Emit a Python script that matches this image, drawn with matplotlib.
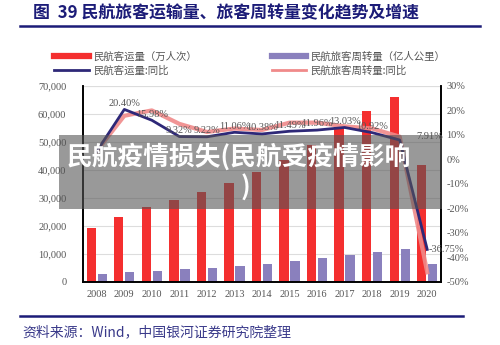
import matplotlib
matplotlib.use('Agg')
import matplotlib.pyplot as plt
from matplotlib.lines import Line2D
from matplotlib.patches import Rectangle

CJK = ['Noto Sans CJK SC', 'DejaVu Sans']
SERIF = ['Liberation Serif', 'DejaVu Serif']

# Data
years = [2008, 2009, 2010, 2011, 2012, 2013, 2014, 2015, 2016, 2017, 2018, 2019, 2020]
passengers = [19251, 23052, 26769, 29317, 31936, 35397, 39195, 43618, 48796, 55156, 61174, 65993, 41778]
pass_km = [2883, 3375, 4039, 4537, 5026, 5657, 6334, 7283, 8378, 9513, 10712, 11705, 6311]
pass_yoy = [3.3, 20.40, 15.98, 9.32, 9.22, 11.06, 10.38, 11.49, 11.96, 13.03, 10.92, 7.91, -36.75]
km_yoy = [3.5, 17.8, 20.0, 14.5, 11.2, 12.6, 12.0, 15.0, 15.0, 13.5, 12.6, 9.3, -46.1]
yoy_labels = ['', '20.40%', '15.98%', '9.32%', '9.22%', '11.06%', '10.38%', '11.49%',
              '11.96%', '13.03%', '10.92%', '7.91%', '-36.75%']

NAVY = '#1c1c78'
RED = '#f42f2f'
PURPLE = '#8a80bd'
DARK_LINE = '#2e2878'
PINK = '#f08a8a'
GREY_TXT = '#555555'

fig = plt.figure(figsize=(5, 3.45), dpi=100)
ax = fig.add_axes([0.166, 0.183, 0.716, 0.568])
ax2 = ax.twinx()

w = 0.34
ax.bar([y - 0.2 for y in years], passengers, width=w, color=RED, zorder=2)
ax.bar([y + 0.2 for y in years], pass_km, width=w, color=PURPLE, zorder=2)
ax.set_ylim(0, 70000)
ax.set_yticks(range(0, 70001, 10000))
ax.set_yticklabels([f'{v:,}' for v in range(0, 70001, 10000)])
ax.set_xlim(2007.5, 2020.5)
ax.set_xticks(years)
ax.grid(axis='y', color='#dddddd', linewidth=0.8, zorder=0)
ax.set_axisbelow(True)

ax2.plot(years, km_yoy, color=PINK, linewidth=3, alpha=0.9, zorder=3)
ax2.plot(years, pass_yoy, color=DARK_LINE, linewidth=2, zorder=4)
ax2.set_ylim(-50, 30)
ax2.set_yticks(range(-50, 31, 10))
ax2.set_yticklabels([f'{v}%' for v in range(-50, 31, 10)])

for x, v, lab in zip(years, pass_yoy, yoy_labels):
    if not lab:
        continue
    dx, dy, ha = 0, 2.5, 'center'
    if x == 2019:
        dx, dy = 1.1, 1.5
    if x == 2020:
        dx, dy, ha = 0.05, 0, 'left'
    ax2.text(x + dx, v + dy, lab, ha=ha, va='center', fontsize=7.5,
             color=GREY_TXT, family=SERIF, zorder=5)

for a in (ax, ax2):
    a.tick_params(length=0, labelsize=7.5, labelcolor=GREY_TXT)
    for lab in a.get_xticklabels() + a.get_yticklabels():
        lab.set_family(SERIF)
    a.spines['top'].set_visible(False)
    for s in ('left', 'right', 'bottom'):
        a.spines[s].set_color('black')
        a.spines[s].set_linewidth(1.2)
ax.tick_params(axis='x', pad=6)
ax.tick_params(axis='y', pad=12)
ax2.tick_params(axis='y', pad=4)
ax.axhline(70000, color='#dddddd', linewidth=0.8, zorder=0)

# legend
handles = [
    Line2D([], [], color=RED, linewidth=4.5),
    Line2D([], [], color=DARK_LINE, linewidth=2),
    Line2D([], [], color=PURPLE, linewidth=4.5),
    Line2D([], [], color=PINK, linewidth=2),
]
labels = ['民航客运量（万人次）', '民航客运量:同比', '民航旅客周转量（亿人公里）', '民航旅客周转量:同比']
leg = fig.legend(handles, labels, ncol=2, loc='center left', bbox_to_anchor=(0.09, 0.815),
                 frameon=False, prop={'family': CJK, 'size': 7.5}, handlelength=3.3,
                 columnspacing=7.2, labelspacing=0.4, handletextpad=0.4)
for t in leg.get_texts():
    t.set_color(GREY_TXT)

# title and source
fig.text(0.066, 0.96, '图  39 民航旅客运输量、旅客周转量变化趋势及增速', fontsize=12.2,
         fontweight='bold', color=NAVY, family=CJK, va='center')
fig.add_artist(Line2D([0.04, 0.96], [0.925, 0.925], color=NAVY, linewidth=1.8))
fig.add_artist(Line2D([0.04, 0.925], [0.084, 0.084], color=NAVY, linewidth=1.8))
fig.text(0.044, 0.038, '资料来源：Wind，中国银河证券研究院整理', fontsize=10, style='italic',
         color='#3a3a8a', family=CJK, va='center')

# overlay banner
fig.add_artist(Rectangle((0.118, 0.395), 0.765, 0.213, transform=fig.transFigure,
                         facecolor='#555555', alpha=0.6, edgecolor='none', zorder=10))
fig.text(0.477, 0.545, '民航疫情损失(民航受疫情影响', fontsize=18.5, fontweight='bold',
         color='white', family=CJK, ha='center', va='center', zorder=11)
fig.text(0.49, 0.455, ')', fontsize=18.5, fontweight='bold',
         color='white', family=CJK, ha='center', va='center', zorder=11)

fig.savefig('out.png', dpi=100)
